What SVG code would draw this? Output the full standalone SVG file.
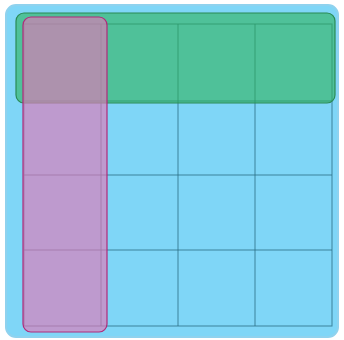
<svg xmlns="http://www.w3.org/2000/svg" width="344" height="340" viewBox="0 0 344 340">
<style>
.grid{stroke:#2b6f86;stroke-width:1;fill:none;opacity:0.8}
</style>
<rect width="344" height="340" fill="#ffffff"/>
<g id="board">
<rect x="6" y="5" width="332" height="332" rx="10" fill="#7fd6f7" stroke="#8fd2ee" stroke-width="2"/>
</g>
<g id="grid">
<rect class="grid" x="24" y="24" width="308" height="302"/>
<line class="grid" x1="101" y1="24" x2="101" y2="326"/>
<line class="grid" x1="178" y1="24" x2="178" y2="326"/>
<line class="grid" x1="255" y1="24" x2="255" y2="326"/>
<line class="grid" x1="24" y1="101" x2="332" y2="101"/>
<line class="grid" x1="24" y1="175" x2="332" y2="175"/>
<line class="grid" x1="24" y1="250" x2="332" y2="250"/>
</g>
<g id="row">
<rect x="16" y="13" width="319" height="90" rx="8" fill="#2fb35a" fill-opacity="0.6" stroke="#2a8a55" stroke-width="1.2"/>
</g>
<g id="column">
<rect x="23" y="17" width="84" height="315" rx="8" fill="#e07ab8" fill-opacity="0.65" stroke="#b02a7a" stroke-width="1.2"/>
</g>
</svg>
